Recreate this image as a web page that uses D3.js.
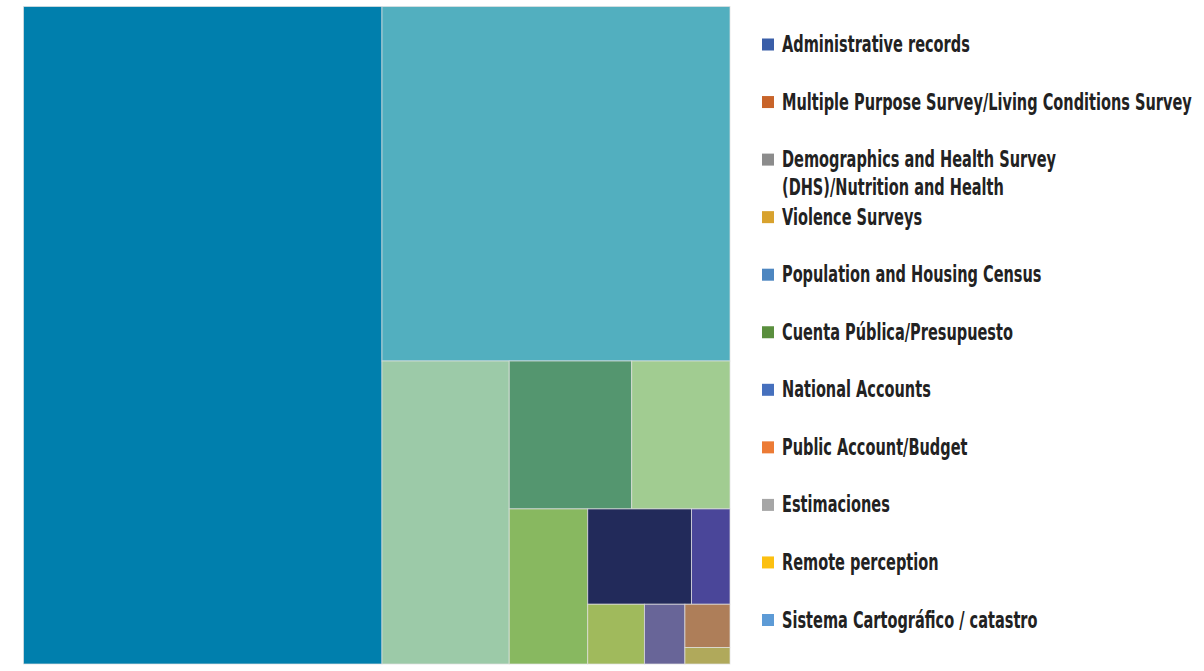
<!DOCTYPE html>
<html>
<head>
<meta charset="utf-8">
<script src="https://cdn.jsdelivr.net/npm/d3@7"></script>
<style>
  body { margin: 0; background: #fff; }
  svg { display: block; }
  .legend text { font-family: 'Liberation Sans Narrow', 'DejaVu Sans Condensed', Roboto, sans-serif; font-weight: bold; fill: #222; }
</style>
</head>
<body>
<svg id="chart"></svg>
<script>
'use strict';

// legend categories (as they appear on the right)
var categories = [
	'Administrative records',
	'Multiple Purpose Survey/Living Conditions Survey',
	'Demographics and Health Survey\n(DHS)/Nutrition and Health',
	'Violence Surveys',
	'Population and Housing Census',
	'Cuenta Pública/Presupuesto',
	'National Accounts',
	'Public Account/Budget',
	'Estimaciones',
	'Remote perception',
	'Sistema Cartográfico / catastro'
];
var legendColors = ['#3a5ea8', '#c8642a', '#8c8c8c', '#d8a22e', '#4d86c0', '#5a8f3e',
	'#4670bd', '#ec7b35', '#a6a6a6', '#fcc010', '#5d9bd6'];

// treemap cells, share of total (%)
var cellNames = categories.map(function(c) { return c.replace('\n', ' '); }).concat(['Other']);
var cellValues = [50.74, 26.56, 8.30, 3.90, 3.13, 2.62, 2.13, 0.79, 0.73, 0.52, 0.42, 0.16];
var cellColors = ['#007fad', '#52afbf', '#9ccaa8', '#54966f', '#a1cc91', '#88b860',
	'#222a5a', '#4a4699', '#a0ba5c', '#686598', '#ae7e59', '#b0a95b'];

// number of cells placed in each strip of the tiling
var stripSizes = [1, 1, 1, 2, 1, 2, 1, 1, 1, 1];

var width = 1204, height = 671;
var box = {left: 23.5, top: 6.5, right: 730, bottom: 664};

var svg = d3.select('#chart')
	.attr('width', width)
	.attr('height', height);

// strips laid along the shorter side, like squarify but with fixed strip sizes
function stripTile(sizes) {
	return function(parent, x0, y0, x1, y1) {
		var nodes = parent.children, value = parent.value, i = 0, k = 0;
		while (i < nodes.length) {
			var n = sizes[k++] || nodes.length - i;
			var row = {value: 0, children: nodes.slice(i, i + n)};
			row.children.forEach(function(c) { row.value += c.value; });
			var dx = x1 - x0, dy = y1 - y0;
			if (dx < dy) {
				var yy = y0 + dy * row.value / value;
				d3.treemapDice(row, x0, y0, x1, yy);
				y0 = yy;
			} else {
				var xx = x0 + dx * row.value / value;
				d3.treemapSlice(row, x0, y0, xx, y1);
				x0 = xx;
			}
			value -= row.value;
			i += n;
		}
	};
}

var data = {
	name: 'root',
	children: cellValues.map(function(v, i) {
		return {name: cellNames[i], value: v, color: cellColors[i]};
	})
};

var root = d3.hierarchy(data).sum(function(d) { return d.value || 0; });

d3.treemap()
	.tile(stripTile(stripSizes))
	.size([box.right - box.left, box.bottom - box.top])(root);

var cells = svg.append('g')
	.attr('transform', 'translate(' + box.left + ',' + box.top + ')');

cells.selectAll('rect')
	.data(root.leaves())
	.enter().append('rect')
	.attr('x', function(d) { return d.x0; })
	.attr('y', function(d) { return d.y0; })
	.attr('width', function(d) { return d.x1 - d.x0; })
	.attr('height', function(d) { return d.y1 - d.y0; })
	.style('fill', function(d) { return d.data.color; })
	.style('stroke', 'rgba(225,225,225,0.7)')
	.style('stroke-width', 1);

// ****************** legend ***************************
var legendY = d3.scalePoint()
	.domain(d3.range(categories.length))
	.range([44.5, 620]);

var legend = svg.append('g').attr('class', 'legend');

var items = legend.selectAll('g.item')
	.data(categories)
	.enter().append('g')
	.attr('class', 'item')
	.attr('transform', function(d, i) { return 'translate(762,' + legendY(i) + ')'; });

items.append('rect')
	.attr('x', 0)
	.attr('y', -6)
	.attr('width', 12)
	.attr('height', 12)
	.style('fill', function(d, i) { return legendColors[i]; });

var labels = items.append('text')
	.attr('x', 20)
	.attr('y', 7.5)
	.style('font-size', '23.5px');

labels.selectAll('tspan')
	.data(function(d) { return d.split('\n'); })
	.enter().append('tspan')
	.attr('x', 20)
	.attr('dy', function(d, i) { return i === 0 ? 0 : 28; })
	.text(function(d) { return d; });

// squeeze the text to the condensed width of the original
var longest = 0;
labels.selectAll('tspan').each(function() { longest = Math.max(longest, this.getComputedTextLength()); });
var squeeze = 410 / longest;
labels.attr('transform', 'translate(20,0) scale(' + squeeze + ',1) translate(-20,0)');
</script>
</body>
</html>
